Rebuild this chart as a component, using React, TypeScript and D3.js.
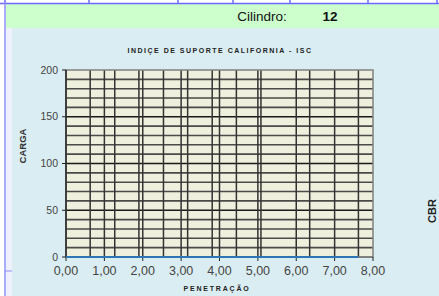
import React from 'react';
import * as d3 from 'd3';

// CBR test: penetration (mm) and load readings, all still zero
const penetracao = [0, 0.63, 1.27, 1.9, 2.54, 3.17, 3.81, 4.44, 5.08, 6.35, 7.62];
const carga = [0, 0, 0, 0, 0, 0, 0, 0, 0, 0, 0];
const xTicks = [0, 1, 2, 3, 4, 5, 6, 7, 8];
const yTicks = [0, 50, 100, 150, 200];
const cilindro = '12';

// spreadsheet cell borders above the chart
const cellBorders = [5, 89, 178, 233, 290, 368, 437];

const W = 439;
const H = 296;
const plot = { left: 66, right: 373, top: 70, bottom: 257 };

const x = d3.scaleLinear().domain([0, 8]).range([plot.left, plot.right]);
const y = d3.scaleLinear().domain([0, 200]).range([plot.bottom, plot.top]);

const fmt = (d: number) => d.toFixed(2).replace('.', ',');

export default function App() {
  const line = d3
    .line<number>()
    .x((_, i) => x(penetracao[i]))
    .y(d => y(d));

  const hGrid = d3.range(10, 200, 10);
  const vGrid = [...xTicks.slice(1, -1), ...penetracao.slice(1)];

  return (
    <svg
      width={W}
      height={H}
      style={{ position: 'absolute', left: 0, top: 0, fontFamily: 'Arial, "Liberation Sans", sans-serif' }}
    >
      <rect x={0} y={0} width={W} height={H} fill="#ffffff" />
      {/* green header band */}
      <rect x={6} y={4} width={W - 6} height={24} fill="#ccffcc" />
      <line x1={0} x2={W} y1={3.5} y2={3.5} stroke="#6a6aff" strokeWidth={1.5} />
      {cellBorders.map(cx => (
        <line key={cx} x1={cx} x2={cx} y1={0} y2={4} stroke="#6a6aff" strokeWidth={1.5} />
      ))}
      <text x={262} y={21} fontSize={13.5} textAnchor="middle" fill="#111">Cilindro:</text>
      <text x={330} y={21} fontSize={13.5} fontWeight="bold" textAnchor="middle" fill="#111">{cilindro}</text>

      {/* chart area */}
      <rect x={6} y={28} width={6} height={H - 28} fill="#eef0fb" />
      <rect x={12} y={28} width={W - 12} height={H - 28} fill="#daedf2" />
      <line x1={5} x2={5} y1={0} y2={H} stroke="#8f8fff" strokeWidth={1.5} />
      <line x1={5} x2={12} y1={271} y2={271} stroke="#8f8fff" strokeWidth={1} />

      <text x={220} y={53} fontSize={7} fontWeight="bold" textAnchor="middle" letterSpacing={1.5} fill="#222">
        INDIÇE DE SUPORTE CALIFORNIA - ISC
      </text>

      {/* plot area */}
      <rect
        x={plot.left}
        y={plot.top}
        width={plot.right - plot.left}
        height={plot.bottom - plot.top}
        fill="#eeefdc"
      />
      {hGrid.map(v => (
        <line
          key={'h' + v}
          x1={plot.left}
          x2={plot.right}
          y1={y(v)}
          y2={y(v)}
          stroke={v % 50 === 0 ? '#1a1a1a' : '#4a4a4a'}
          strokeWidth={1.6}
        />
      ))}
      {vGrid.map((v, i) => (
        <line key={'v' + i} x1={x(v)} x2={x(v)} y1={plot.top} y2={plot.bottom} stroke="#333" strokeWidth={1.5} />
      ))}
      <rect
        x={plot.left}
        y={plot.top}
        width={plot.right - plot.left}
        height={plot.bottom - plot.top}
        fill="none"
        stroke="#808080"
        strokeWidth={1.5}
      />
      <line x1={plot.left} x2={plot.left} y1={plot.top} y2={plot.bottom} stroke="#222" strokeWidth={1.5} />
      <line x1={plot.left} x2={plot.right} y1={plot.bottom} y2={plot.bottom} stroke="#666" strokeWidth={1.2} />

      {/* y axis */}
      {yTicks.map(t => (
        <g key={'y' + t}>
          <line x1={plot.left - 4} x2={plot.left} y1={y(t)} y2={y(t)} stroke="#222" />
          <text x={plot.left - 8} y={y(t) + 3.5} fontSize={10.5} textAnchor="end" fill="#444">{t}</text>
        </g>
      ))}
      {/* x axis */}
      {xTicks.map(t => (
        <g key={'x' + t}>
          <line x1={x(t)} x2={x(t)} y1={plot.bottom} y2={plot.bottom + 4} stroke="#222" />
          <text x={x(t)} y={plot.bottom + 18} fontSize={12.5} textAnchor="middle" fill="#444">{fmt(t)}</text>
        </g>
      ))}

      <path d={line(carga) || ''} fill="none" stroke="#2e75b6" strokeWidth={2.2} />

      <text x={217} y={291} fontSize={7} fontWeight="bold" textAnchor="middle" letterSpacing={1.8} fill="#222">
        PENETRAÇÃO
      </text>
      <text
        transform="translate(26,146) rotate(-90)"
        fontSize={9.5}
        fontWeight="bold"
        textAnchor="middle"
        fill="#333"
      >
        CARGA
      </text>
      <text
        transform="translate(436,211) rotate(-90)"
        fontSize={11}
        fontWeight="bold"
        textAnchor="middle"
        fill="#222"
      >
        CBR
      </text>
    </svg>
  );
}
